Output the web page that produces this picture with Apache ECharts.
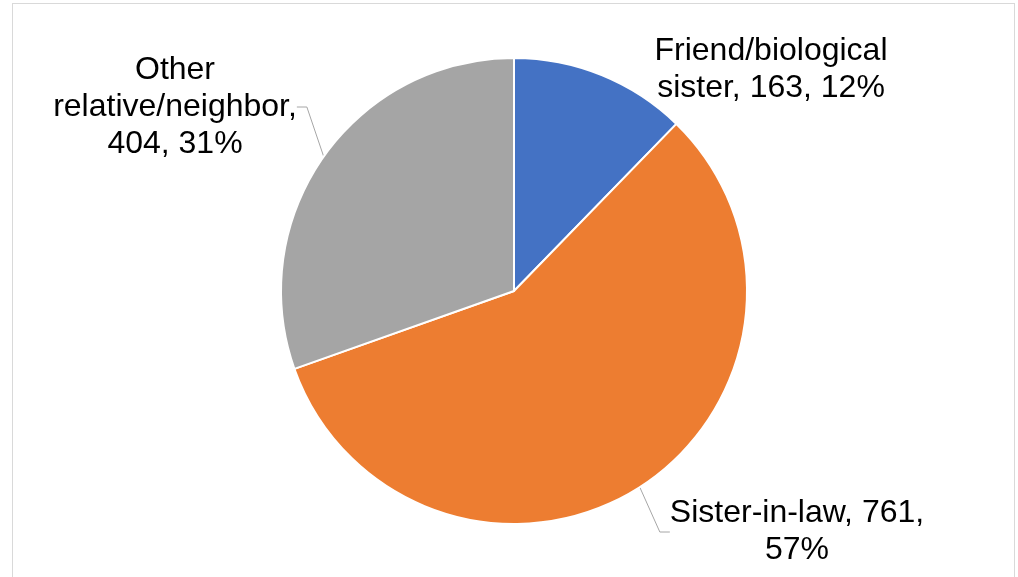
<!DOCTYPE html>
<html>
<head>
<meta charset="UTF-8">
<title>Pie</title>
<script src="https://cdn.jsdelivr.net/npm/echarts@6/dist/echarts.min.js"></script>
<style>
	body{margin:0;background:#fff;}
	#main{position:absolute;left:0;top:0;width:1018px;height:577px;}
	#frame{position:absolute;left:12px;top:3px;width:1001px;height:600px;border:1px solid #d9d9d9;pointer-events:none;}
</style>
</head>
<body>
	<div id="main"></div>
	<div id="frame"></div>
<script type="text/javascript">
	var categories = ['Friend/biological sister', 'Sister-in-law', 'Other relative/neighbor'];
	var counts = [163, 761, 404];
	var percents = [12, 57, 31];
	var colors = ['#4472C4', '#ED7D31', '#A5A5A5'];

	// label text templates (line breaks as in the original)
	var labelFmt = [
		'Friend/biological\nsister, {c}, {p}%',
		'{b}, {c},\n{p}%',
		'Other\nrelative/neighbor,\n{c}, {p}%'
	];
	// centre of each label block
	var labelPos = [[771, 70], [797, 532], [175, 107]];

	var myChart = echarts.init(document.getElementById('main'));
	var data = [];
	for (var i = 0; i < categories.length; i++) {
		data.push({
			name: categories[i],
			value: counts[i],
			itemStyle: { color: colors[i] },
			labelLine: { show: i != 0 }
		});
	}
	var option = {
		animation: false,
		series: [{
			type: 'pie',
			center: [514, 291],
			radius: [0, 233],
			startAngle: 90,
			clockwise: true,
			data: data,
			itemStyle: { borderColor: '#fff', borderWidth: 2 },
			label: {
				show: true,
				position: 'outside',
				formatter: function (p) {
					return labelFmt[p.dataIndex]
						.replace('{b}', p.name)
						.replace('{c}', counts[p.dataIndex])
						.replace('{p}', percents[p.dataIndex]);
				},
				fontFamily: 'Liberation Sans, Arial, sans-serif',
				fontSize: 32,
				lineHeight: 37,
				color: '#000',
				align: 'center'
			},
			labelLine: {
				show: true,
				length: 10,
				length2: 10,
				lineStyle: { color: '#a6a6a6', width: 1 }
			},
			labelLayout: function (params) {
				var pos = labelPos[params.dataIndex];
				return {
					x: pos[0],
					y: pos[1],
					align: 'center',
					verticalAlign: 'middle'
				};
			}
		}]
	};
	myChart.setOption(option);
</script>
</body>
</html>
